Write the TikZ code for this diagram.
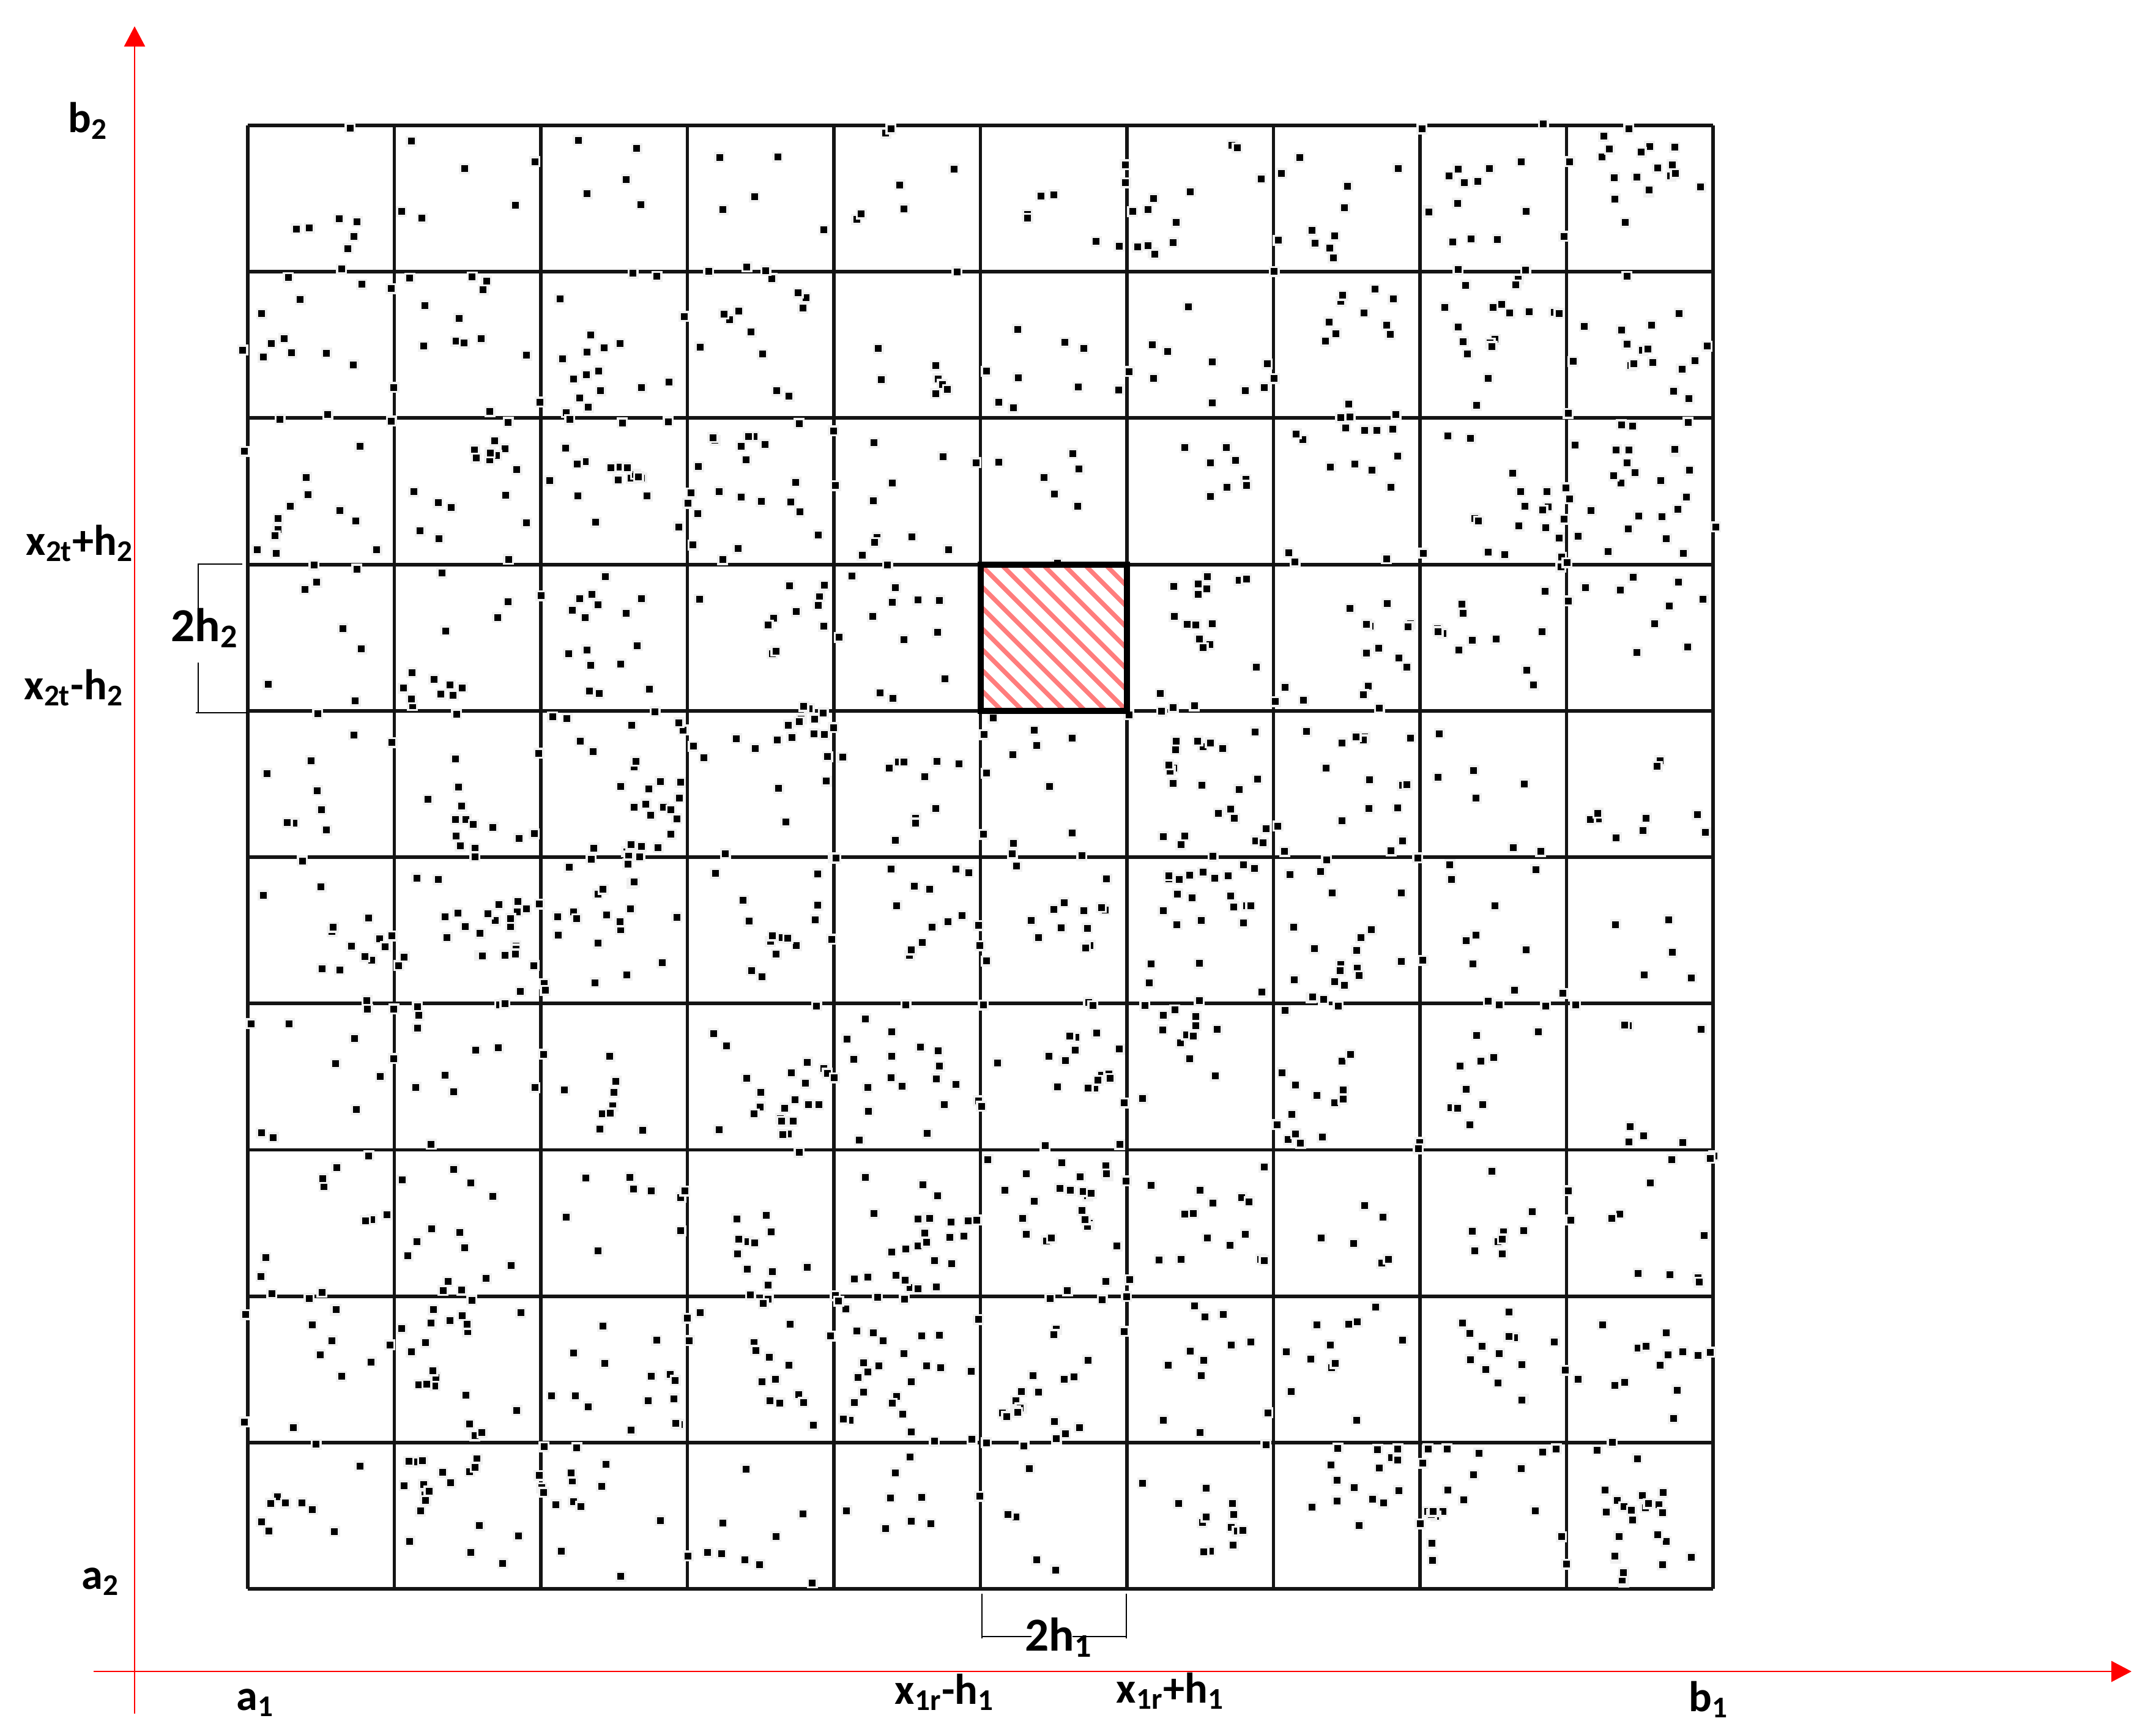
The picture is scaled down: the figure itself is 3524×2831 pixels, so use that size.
\documentclass[tikz,border=0pt]{standalone}
\usepackage{fontspec}
\setmainfont{Carlito}
\usetikzlibrary{arrows.meta}
\definecolor{hatchred}{RGB}{255,125,125}
\definecolor{axisred}{RGB}{255,0,0}
\newcommand{\sbb}[1]{\textsubscript{#1}}
\begin{document}
\begin{tikzpicture}[x=0.01cm,y=-0.01cm,
 lbl/.style={font=\fontsize{20}{24}\selectfont\bfseries,inner sep=0pt,anchor=base west},
 biglbl/.style={lbl,font=\fontsize{22}{26}\selectfont\bfseries},
 gridline/.style={draw=black!92,line width=0.058cm},
 axisline/.style={draw=axisred,line width=0.028cm,-{Triangle[length=0.33cm,width=0.34cm]}},
 brk/.style={draw=black,line width=0.022cm},
 hatch/.style={draw=hatchred,line width=0.075cm},
 hlbox/.style={draw=black,line width=0.1cm},
 dotsq/.style={fill=black},
 halo/.style={fill=black!6}]
\useasboundingbox (0,0) rectangle (3524,2831);
\fill[white] (0,0) rectangle (3524,2831);

% grid
\foreach \i in {0,...,10}{
  \draw[gridline] (405+239.5*\i,205) -- (405+239.5*\i,2597);
  \draw[gridline] (405,205+239.2*\i) -- (2800,205+239.2*\i);
}

% dots
\pgfmathsetseed{11}
\foreach \cnts [count=\rr from 0] in {
 {7,6,5,5,7,6,16,12,14,20},
 {15,14,18,16,8,10,10,12,20,22},
 {14,18,18,22,12,7,8,16,22,22},
 {8,14,18,12,12,0,20,14,12,10},
 {8,16,28,24,10,12,24,18,8,10},
 {14,28,22,16,14,16,24,22,10,6},
 {10,12,10,22,20,22,14,16,14,8},
 {10,14,8,14,28,30,16,6,10,12},
 {12,22,16,16,28,22,12,12,14,16},
 {10,20,14,10,8,6,14,16,20,24}}{
  \foreach \nn [count=\cc from 0] in \cnts {
    \ifnum\nn>0
    \pgfmathsetmacro\cx{405+239.5*\cc+50+rnd*140}
    \pgfmathsetmacro\cy{205+239.2*\rr+50+rnd*140}
    \foreach \k in {1,...,\nn}{
      \pgfmathsetmacro\pick{rnd}
      \ifdim\pick pt<0.5pt
        \pgfmathsetmacro\xx{405+239.5*\cc-6+rnd*251}
        \pgfmathsetmacro\yy{205+239.2*\rr-6+rnd*251}
      \else
        \pgfmathsetmacro\xx{\cx+(rnd-0.5)*130}
        \pgfmathsetmacro\yy{\cy+(rnd-0.5)*130}
      \fi
      \fill[halo] (\xx-9,\yy-9) rectangle ++(18,18);
      \fill[dotsq] (\xx-5.5,\yy-5.5) rectangle ++(11,11);
    }
    \fi
  }
}

% highlighted cell
\coordinate (hA) at (1602.5,922.6);
\coordinate (hB) at (1842,1161.8);
\fill[white] (hA) rectangle (hB);
\begin{scope}
  \clip (hA) rectangle (hB);
  \foreach \i in {-10,...,8}{
    \draw[hatch] (1602.5+34*\i,922.6) -- ++(300,300);
  }
\end{scope}
\draw[hlbox] (hA) rectangle (hB);

% axes
\coordinate (yS) at (220,2801);
\coordinate (yE) at (220,43);
\coordinate (xS) at (153,2732);
\coordinate (xE) at (3484,2732);
\draw[axisline] (yS) -- (yE);
\draw[axisline] (xS) -- (xE);

% bracket 2h2
\coordinate (v1) at (324,922);
\coordinate (v1r) at (396,922);
\coordinate (v2) at (324,995);
\coordinate (v3) at (324,1083);
\coordinate (v4) at (324,1165);
\coordinate (v4l) at (320,1165);
\coordinate (v4r) at (404,1165);
\draw[brk] (v1r) -- (v1) -- (v2);
\draw[brk] (v3) -- (v4);
\draw[brk] (v4l) -- (v4r);

% bracket 2h1
\coordinate (h1) at (1605,2605);
\coordinate (h2) at (1605,2678);
\coordinate (h3) at (1841,2605);
\coordinate (h4) at (1841,2678);
\coordinate (hm1) at (1605,2675);
\coordinate (hm2) at (1686,2675);
\coordinate (hm3) at (1753,2675);
\coordinate (hm4) at (1841,2675);
\draw[brk] (h1) -- (h2);
\draw[brk] (h3) -- (h4);
\draw[brk] (hm1) -- (hm2);
\draw[brk] (hm3) -- (hm4);

% labels
\node[lbl] (lb2) at (111,217) {b\sbb{2}};
\node[lbl] (lxp) at (42,907) {x\sbb{2t}+h\sbb{2}};
\node[lbl] (lxm) at (39,1143) {x\sbb{2t}-h\sbb{2}};
\node[biglbl] (l2h2) at (279,1048) {2h\sbb{2}};
\node[lbl] (la2) at (133,2597) {a\sbb{2}};
\node[lbl] (la1) at (386,2795) {a\sbb{1}};
\node[biglbl] (l2h1) at (1675,2698) {2h\sbb{1}};
\node[lbl] (lx1m) at (1462,2785) {x\sbb{1r}-h\sbb{1}};
\node[lbl] (lx1p) at (1824,2783) {x\sbb{1r}+h\sbb{1}};
\node[lbl] (lb1) at (2760,2797) {b\sbb{1}};
\end{tikzpicture}
\end{document}
